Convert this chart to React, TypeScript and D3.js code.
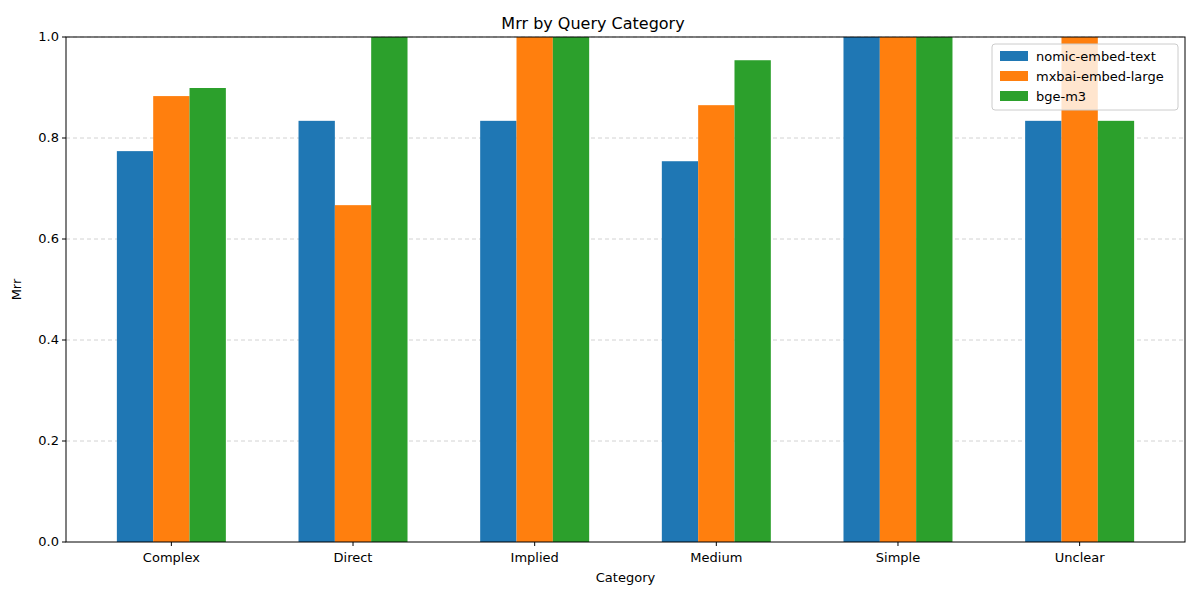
import * as React from 'react';
import * as d3 from 'd3';

const categories = ['Complex', 'Direct', 'Implied', 'Medium', 'Simple', 'Unclear'];
const seriesNames = ['nomic-embed-text', 'mxbai-embed-large', 'bge-m3'];
const nomic = [0.774, 0.834, 0.834, 0.754, 1.0, 0.834];
const mxbai = [0.883, 0.667, 1.0, 0.865, 1.0, 1.0];
const bge = [0.899, 1.0, 1.0, 0.954, 1.0, 0.834];
const yTicks = [0, 0.2, 0.4, 0.6, 0.8, 1.0];
const colors = ['#1f77b4', '#ff7f0e', '#2ca02c'];

const W = 1200, H = 600;
const margin = { top: 37, right: 15, bottom: 58, left: 66 };

export default function App() {
  const series = [nomic, mxbai, bge];
  const innerW = W - margin.left - margin.right;
  const innerH = H - margin.top - margin.bottom;
  const x = d3.scaleLinear().domain([-0.58, categories.length - 1 + 0.58]).range([0, innerW]);
  const y = d3.scaleLinear().domain([0, 1]).range([innerH, 0]);
  const bw = x(0.2) - x(0);
  const font = 'DejaVu Sans, sans-serif';

  return (
    <svg width={W} height={H} style={{ position: 'absolute', left: 0, top: 0 }} fontFamily={font}>
      <rect width={W} height={H} fill="#fff" />
      <text x={W / 2 - 7} y={29} textAnchor="middle" fontSize={16}>Mrr by Query Category</text>
      <g transform={`translate(${margin.left},${margin.top})`}>
        {yTicks.slice(1).map(t => (
          <line key={t} x1={0} x2={innerW} y1={y(t)} y2={y(t)} stroke="#b0b0b0" strokeDasharray="4,3" strokeWidth={0.8} opacity={0.7} />
        ))}
        {series.map((s, si) =>
          s.map((v, i) => (
            <rect key={`${si}-${i}`} x={x(i + (si - 1) * 0.2) - bw / 2} y={y(v)} width={bw} height={innerH - y(v)} fill={colors[si]} />
          ))
        )}
        <rect width={innerW} height={innerH} fill="none" stroke="#000" strokeWidth={1} />
        {yTicks.map(t => (
          <g key={t} transform={`translate(0,${y(t)})`}>
            <line x1={-4} x2={0} stroke="#000" />
            <text x={-7} dy="0.32em" textAnchor="end" fontSize={13}>{t.toFixed(1)}</text>
          </g>
        ))}
        {categories.map((c, i) => (
          <g key={c} transform={`translate(${x(i)},${innerH})`}>
            <line y1={0} y2={4} stroke="#000" />
            <text y={20} textAnchor="middle" fontSize={13}>{c}</text>
          </g>
        ))}
        <text x={innerW / 2} y={innerH + 40} textAnchor="middle" fontSize={13}>Category</text>
        <text transform={`translate(-45,${innerH / 2}) rotate(-90)`} textAnchor="middle" fontSize={13}>Mrr</text>
        <g transform={`translate(${innerW - 193},7)`}>
          <rect width={186} height={66} rx={3} fill="#fff" fillOpacity={0.8} stroke="#ccc" />
          {seriesNames.map((n, i) => (
            <g key={n} transform={`translate(8,${12 + i * 20})`}>
              <rect width={28} height={10} y={-5} fill={colors[i]} />
              <text x={36} dy="0.35em" fontSize={13}>{n}</text>
            </g>
          ))}
        </g>
      </g>
    </svg>
  );
}
